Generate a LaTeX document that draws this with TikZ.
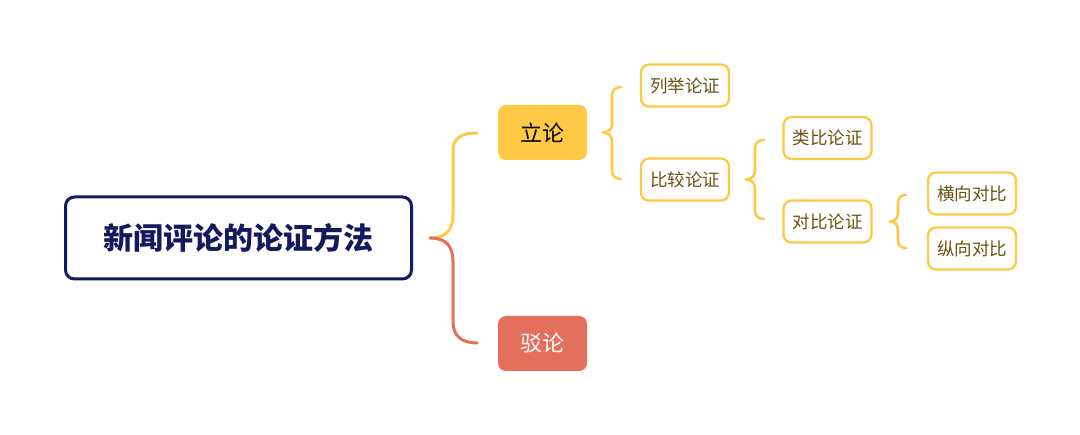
\documentclass[tikz,border=0pt]{standalone}
\usepackage{fontspec}
\newfontfamily\cjk{Noto Sans CJK SC}
\definecolor{navy}{HTML}{141A5E}
\definecolor{gold}{HTML}{FFC845}
\definecolor{coral}{HTML}{E4705B}
\definecolor{brownt}{HTML}{6A5212}
\tikzset{
  rootbox/.style={draw=navy, line width=3pt, rounded corners=9pt, fill=white, text=navy, font=\cjk\fontsize{30}{34}\selectfont\bfseries, minimum width=346pt, minimum height=82pt, inner sep=0pt},
  mainbox/.style={rounded corners=8pt, minimum width=89pt, minimum height=55pt, inner sep=0pt, font=\cjk\fontsize{22}{25}\selectfont},
  leafbox/.style={draw=gold, line width=2.3pt, rounded corners=8pt, fill=white, text=brownt, minimum width=88pt, minimum height=42pt, inner sep=0pt, font=\cjk\fontsize{17.5}{20}\selectfont},
  brace/.style={line width=2.6pt, line cap=round, draw=gold},
}
\begin{document}
\begin{tikzpicture}[x=1pt,y=-1pt]
\useasboundingbox (0,0) rectangle (1080,435);
\node[rootbox] (root) at (238.5,238) {新闻评论的论证方法};
\node[mainbox, fill=gold, text=black] (li) at (542.5,132.5) {立论};
\node[mainbox, fill=coral, text=white] (bo) at (542.5,343.5) {驳论};
\node[leafbox] (lj) at (685,85.5) {列举论证};
\node[leafbox] (bj) at (685,179.5) {比较论证};
\node[leafbox] (lb) at (827.5,138) {类比论证};
\node[leafbox] (db) at (827.5,221.5) {对比论证};
\node[leafbox] (hx) at (972,193.5) {横向对比};
\node[leafbox] (zx) at (972,248.5) {纵向对比};
% main braces
\coordinate (r0) at (430,238);
\draw[brace, line width=3pt] (r0) .. controls (446,238) and (453,230) .. (453,214) -- (453,150) .. controls (453,138) and (462,133) .. (477,133) coordinate (liend);
\draw[brace, line width=3pt, draw=coral] (r0) .. controls (446,238) and (453,246) .. (453,262) -- (453,322) .. controls (453,336) and (462,343) .. (477,343) coordinate (boend);
% small braces
\newcommand{\mybrace}[5]{% tip x, mid y, top y, bottom y, end x
  \draw[brace] (#1,#2) .. controls ({#1+5},#2) and ({(#1+#5)/2},{#2-3}) .. ({(#1+#5)/2},{#2-9}) -- ({(#1+#5)/2},{#3+8}) .. controls ({(#1+#5)/2},{#3+2}) and ({#5-4},#3) .. (#5,#3);
  \draw[brace] (#1,#2) .. controls ({#1+5},#2) and ({(#1+#5)/2},{#2+3}) .. ({(#1+#5)/2},{#2+9}) -- ({(#1+#5)/2},{#4-8}) .. controls ({(#1+#5)/2},{#4-2}) and ({#5-4},#4) .. (#5,#4);
}
\mybrace{603}{132.5}{87}{179}{621}
\mybrace{746}{179.5}{140}{219}{764}
\mybrace{890}{221.5}{195}{248}{906}
\end{tikzpicture}
\end{document}
